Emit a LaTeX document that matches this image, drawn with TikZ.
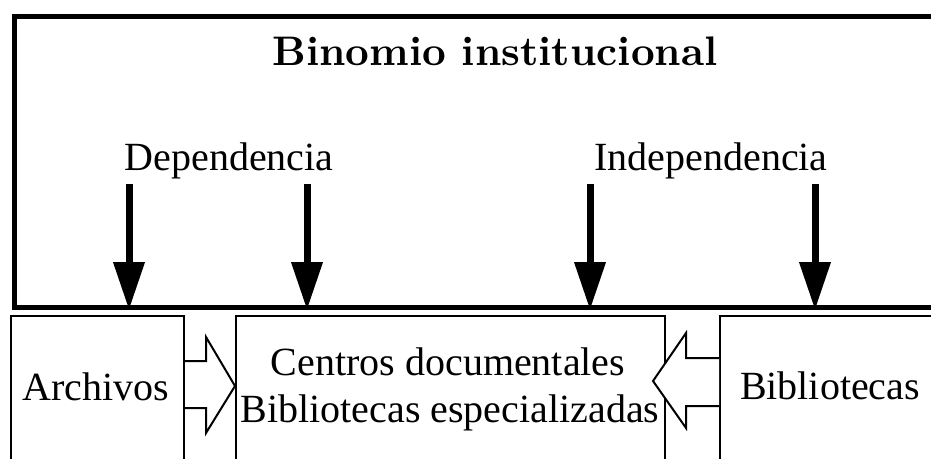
\documentclass[tikz,border=0pt]{standalone}
\usepackage{fontspec}
\newfontfamily\timesf{Liberation Serif}
\newfontfamily\cmbx{lmroman10-bold.otf}
\tikzset{
  outerbox/.style={draw, line width=5pt, anchor=north west, inner sep=0pt},
  lowbox/.style={draw, line width=2pt, anchor=north west, inner sep=0pt},
  lbl/.style={anchor=base, inner sep=0pt, font=\timesf\fontsize{40}{48}\selectfont},
  ttl/.style={anchor=base, inner sep=0pt, font=\cmbx\fontsize{41.3}{49}\selectfont},
  bigarrow/.style={line width=7pt, -{Triangle[width=30pt,length=48pt]}},
  hollow/.style={draw, line width=2pt, fill=white, line join=miter}
}
\usetikzlibrary{arrows.meta}
\begin{document}
\begin{tikzpicture}[x=1pt,y=-1pt]
\useasboundingbox (0,0) rectangle (931,458);
\clip (0,0) rectangle (931,458);
% outer box
\node[outerbox, minimum width=966pt, minimum height=291.5pt] (outer) at (11.5,13.5) {};
\node[ttl] (title) at (495,65) {Binomio institucional};
\node[lbl] (dep) at (229,170) {Dependencia};
\node[lbl] (indep) at (711,170) {Independencia};
% lower boxes
\node[lowbox, minimum width=173pt, minimum height=200pt] (arch) at (10,315) {};
\node[lowbox, minimum width=429pt, minimum height=200pt] (cent) at (235,315) {};
\node[lowbox, minimum width=260pt, minimum height=200pt] (bibl) at (719,315) {};
\node[lbl] (archt) at (95.5,400) {Archivos};
\node[lbl] (centa) at (448,375) {Centros documentales};
\node[lbl] (centb) at (450,422) {Bibliotecas especializadas};
\node[lbl] (biblt) at (830,399) {Bibliotecas};
% black arrows
\foreach \i/\x in {1/129,2/307,3/590,4/815}{
  \coordinate (s\i) at (\x,184);
  \draw[bigarrow] (s\i) -- (s\i |- outer.south);
}
% hollow arrows
\draw[hollow] (arch.east |- 0,361) -- (206,361) -- (206,337) -- (cent.west |- 0,386) -- (206,433) -- (206,408) -- (arch.east |- 0,408);
\draw[hollow] (bibl.west |- 0,358) -- (686,358) -- (686,333) -- (653,381) -- (686,428) -- (686,406) -- (bibl.west |- 0,406);
\end{tikzpicture}
\end{document}
